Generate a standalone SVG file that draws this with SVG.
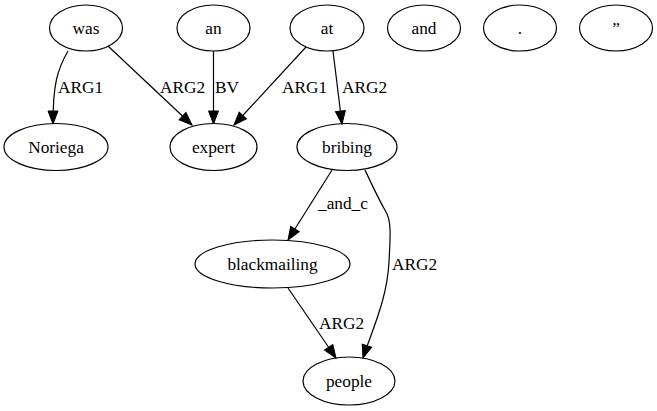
<svg xmlns="http://www.w3.org/2000/svg" width="657" height="411" viewBox="0 0 657 411">
<style>
.n ellipse{fill:none;stroke:#000;stroke-width:1.2}
.e path{fill:none;stroke:#000;stroke-width:1.2;marker-end:url(#ah)}
</style>
<defs>
<marker id="ah" markerUnits="userSpaceOnUse" markerWidth="14" markerHeight="11" refX="13" refY="5" orient="auto" overflow="visible">
<path d="M0,0 L13,5 L0,10 z" fill="#000" stroke="#000" stroke-width="1"/>
</marker>
</defs>
<rect width="657" height="411" fill="#fff"/>
<g id="edges" class="e">
<path d="M68,51 C57,70 53,85 53,124"/>
<text x="58" y="93" font-family="Liberation Serif" font-size="17.3">ARG1</text>
<path d="M108,46 L192,125"/>
<text x="160" y="93" font-family="Liberation Serif" font-size="17.3">ARG2</text>
<path d="M213.5,51 L213.5,124"/>
<text x="215" y="93" font-family="Liberation Serif" font-size="17.3">BV</text>
<path d="M306,47 L234,125"/>
<text x="282" y="93" font-family="Liberation Serif" font-size="17.3">ARG1</text>
<path d="M333,51 L342,124"/>
<text x="342" y="93" font-family="Liberation Serif" font-size="17.3">ARG2</text>
<path d="M332,170 L288,240"/>
<text x="318" y="209" font-family="Liberation Serif" font-size="17.3">_and_c</text>
<path d="M365,170 C372,185 378,198 386,212 C392,222 390,240 389,262 C387,300 372,330 363,358"/>
<text x="392" y="270" font-family="Liberation Serif" font-size="17.3">ARG2</text>
<path d="M288,288 L336,358"/>
<text x="319" y="329" font-family="Liberation Serif" font-size="17.3">ARG2</text>
</g>
<g id="was" class="n"><ellipse cx="86" cy="28" rx="36.5" ry="23"/><text x="86" y="34" text-anchor="middle" font-family="Liberation Serif" font-size="17.3">was</text></g>
<g id="an" class="n"><ellipse cx="213.5" cy="28" rx="36.5" ry="23"/><text x="213.5" y="34" text-anchor="middle" font-family="Liberation Serif" font-size="17.3">an</text></g>
<g id="at" class="n"><ellipse cx="327" cy="28" rx="37" ry="23"/><text x="327" y="34" text-anchor="middle" font-family="Liberation Serif" font-size="17.3">at</text></g>
<g id="and" class="n"><ellipse cx="424" cy="28" rx="36.5" ry="23"/><text x="424" y="34" text-anchor="middle" font-family="Liberation Serif" font-size="17.3">and</text></g>
<g id="period" class="n"><ellipse cx="520" cy="28" rx="36.5" ry="23"/><text x="520" y="34" text-anchor="middle" font-family="Liberation Serif" font-size="17.3">.</text></g>
<g id="quote" class="n"><ellipse cx="616" cy="28" rx="36.5" ry="23"/><text x="616" y="34" text-anchor="middle" font-family="Liberation Serif" font-size="17.3">”</text></g>
<g id="Noriega" class="n"><ellipse cx="56" cy="147" rx="52" ry="23.5"/><text x="56" y="153" text-anchor="middle" font-family="Liberation Serif" font-size="17.3">Noriega</text></g>
<g id="expert" class="n"><ellipse cx="213.5" cy="147" rx="43.5" ry="23.5"/><text x="213.5" y="153" text-anchor="middle" font-family="Liberation Serif" font-size="17.3">expert</text></g>
<g id="bribing" class="n"><ellipse cx="347" cy="147" rx="50" ry="23.5"/><text x="347" y="153" text-anchor="middle" font-family="Liberation Serif" font-size="17.3">bribing</text></g>
<g id="blackmailing" class="n"><ellipse cx="272.5" cy="264" rx="77.5" ry="24"/><text x="272.5" y="270" text-anchor="middle" font-family="Liberation Serif" font-size="17.3">blackmailing</text></g>
<g id="people" class="n"><ellipse cx="349" cy="381" rx="46" ry="24"/><text x="349" y="387" text-anchor="middle" font-family="Liberation Serif" font-size="17.3">people</text></g>
</svg>
